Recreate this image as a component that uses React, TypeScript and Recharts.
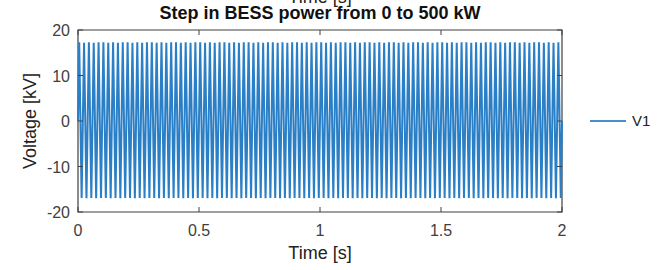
import React from 'react'
import { LineChart, Line, XAxis, YAxis, ReferenceArea } from 'recharts'

// extreme values of each half cycle of V1 (50 Hz, 2 s)
const v1Peaks = [
  17.3, 17.2, 17.3, 17.2, 17.3, 17.3, 17.2, 17.3, 17.2, 17.3,
  17.3, 17.2, 17.3, 17.2, 17.3, 17.3, 17.2, 17.3, 17.2, 17.3,
  17.3, 17.2, 17.3, 17.2, 17.3, 17.3, 17.2, 17.3, 17.2, 17.3,
  17.3, 17.2, 17.3, 17.2, 17.3, 17.3, 17.2, 17.3, 17.2, 17.3,
  17.3, 17.2, 17.3, 17.2, 17.3, 17.3, 17.2, 17.3, 17.2, 17.3,
  17.3, 17.2, 17.3, 17.2, 17.3, 17.3, 17.2, 17.3, 17.2, 17.3,
  17.3, 17.2, 17.3, 17.2, 17.3, 17.3, 17.2, 17.3, 17.2, 17.3,
  17.3, 17.2, 17.3, 17.2, 17.3, 17.3, 17.2, 17.3, 17.2, 17.3,
  17.3, 17.2, 17.3, 17.2, 17.3, 17.3, 17.2, 17.3, 17.2, 17.3,
  17.3, 17.2, 17.3, 17.2, 17.3, 17.3, 17.2, 17.3, 17.2, 17.3,
]
const v1Troughs = [
  -16.9, -17.0, -16.9, -17.0, -16.9, -16.9, -17.0, -16.9, -17.0, -16.9,
  -16.9, -17.0, -16.9, -17.0, -16.9, -16.9, -17.0, -16.9, -17.0, -16.9,
  -16.9, -17.0, -16.9, -17.0, -16.9, -16.9, -17.0, -16.9, -17.0, -16.9,
  -16.9, -17.0, -16.9, -17.0, -16.9, -16.9, -17.0, -16.9, -17.0, -16.9,
  -16.9, -17.0, -16.9, -17.0, -16.9, -16.9, -17.0, -16.9, -17.0, -16.9,
  -16.9, -17.0, -16.9, -17.0, -16.9, -16.9, -17.0, -16.9, -17.0, -16.9,
  -16.9, -17.0, -16.9, -17.0, -16.9, -16.9, -17.0, -16.9, -17.0, -16.9,
  -16.9, -17.0, -16.9, -17.0, -16.9, -16.9, -17.0, -16.9, -17.0, -16.9,
  -16.9, -17.0, -16.9, -17.0, -16.9, -16.9, -17.0, -16.9, -17.0, -16.9,
  -16.9, -17.0, -16.9, -17.0, -16.9, -16.9, -17.0, -16.9, -17.0, -16.9,
]
const cyclePeriod = 0.02
const xTicks = [0, 0.5, 1, 1.5, 2]
const yTicks = [-20, -10, 0, 10, 20]

const data: { t: number; v: number }[] = [{ t: 0, v: 0 }]
v1Peaks.forEach((p, i) => {
  data.push({ t: i * cyclePeriod + cyclePeriod / 4, v: p })
  data.push({ t: i * cyclePeriod + (3 * cyclePeriod) / 4, v: v1Troughs[i] })
})
data.push({ t: 2, v: 0 })

const W = 664
const H = 270
const left = 78
const right = 562
const top = 30
const bottom = 212
const font = '"Liberation Sans", Arial, sans-serif'
const axisColor = '#404040'
const lineColor = '#2a7fc6'

const XTick = (props: any) => {
  const { x, payload } = props
  return (
    <g>
      <line x1={x} x2={x} y1={bottom} y2={bottom - 5} stroke={axisColor} />
      <line x1={x} x2={x} y1={top} y2={top + 5} stroke={axisColor} />
      <text x={x} y={bottom + 24} textAnchor="middle" fontSize={16} fill={axisColor} fontFamily={font}>
        {payload.value}
      </text>
    </g>
  )
}

const YTick = (props: any) => {
  const { y, payload } = props
  return (
    <g>
      <line x1={left} x2={left + 5} y1={y} y2={y} stroke={axisColor} />
      <line x1={right} x2={right - 5} y1={y} y2={y} stroke={axisColor} />
      <text x={left - 8} y={y + 6} textAnchor="end" fontSize={16} fill={axisColor} fontFamily={font}>
        {payload.value}
      </text>
    </g>
  )
}

export default function App() {
  return (
    <div style={{ position: 'absolute', left: 0, top: 0, width: W, height: H, background: '#fff', overflow: 'hidden', fontFamily: font }}>
      <div style={{ position: 'absolute', left: 0, width: 640, top: -13, textAlign: 'center', fontSize: 18, color: '#222' }}>
        Time [s]
      </div>
      <div style={{ position: 'absolute', left: 0, width: 640, top: 3, textAlign: 'center', fontSize: 18, fontWeight: 'bold', color: '#111' }}>
        Step in BESS power from 0 to 500 kW
      </div>
      <LineChart width={W} height={H} data={data} margin={{ top, right: W - right, bottom: 0, left: 0 }}>
        <XAxis
          dataKey="t"
          type="number"
          domain={[0, 2]}
          ticks={xTicks}
          height={H - bottom}
          tickSize={0}
          tickMargin={0}
          axisLine={false}
          tick={XTick}
          interval={0}
        />
        <YAxis
          type="number"
          domain={[-20, 20]}
          ticks={yTicks}
          width={left}
          tickSize={0}
          tickMargin={0}
          axisLine={false}
          tick={YTick}
          interval={0}
        />
        <ReferenceArea x1={0} x2={2} y1={-20} y2={20} fill="none" stroke={axisColor} strokeWidth={1.2} ifOverflow="visible" />
        <Line
          type="linear"
          dataKey="v"
          stroke={lineColor}
          strokeWidth={2}
          dot={false}
          isAnimationActive={false}
        />
      </LineChart>
      <div style={{ position: 'absolute', left: 0, width: 640, top: 243, textAlign: 'center', fontSize: 18, color: '#222' }}>
        Time [s]
      </div>
      <div
        style={{
          position: 'absolute',
          left: 30,
          top: 121,
          transform: 'translate(-50%, -50%) rotate(-90deg)',
          fontSize: 18,
          color: '#222',
          whiteSpace: 'nowrap',
        }}
      >
        Voltage [kV]
      </div>
      <div style={{ position: 'absolute', left: 590, top: 120, width: 36, height: 2, background: '#4a90d0' }} />
      <div style={{ position: 'absolute', left: 632, top: 112, fontSize: 15, color: '#222' }}>V1</div>
    </div>
  )
}
